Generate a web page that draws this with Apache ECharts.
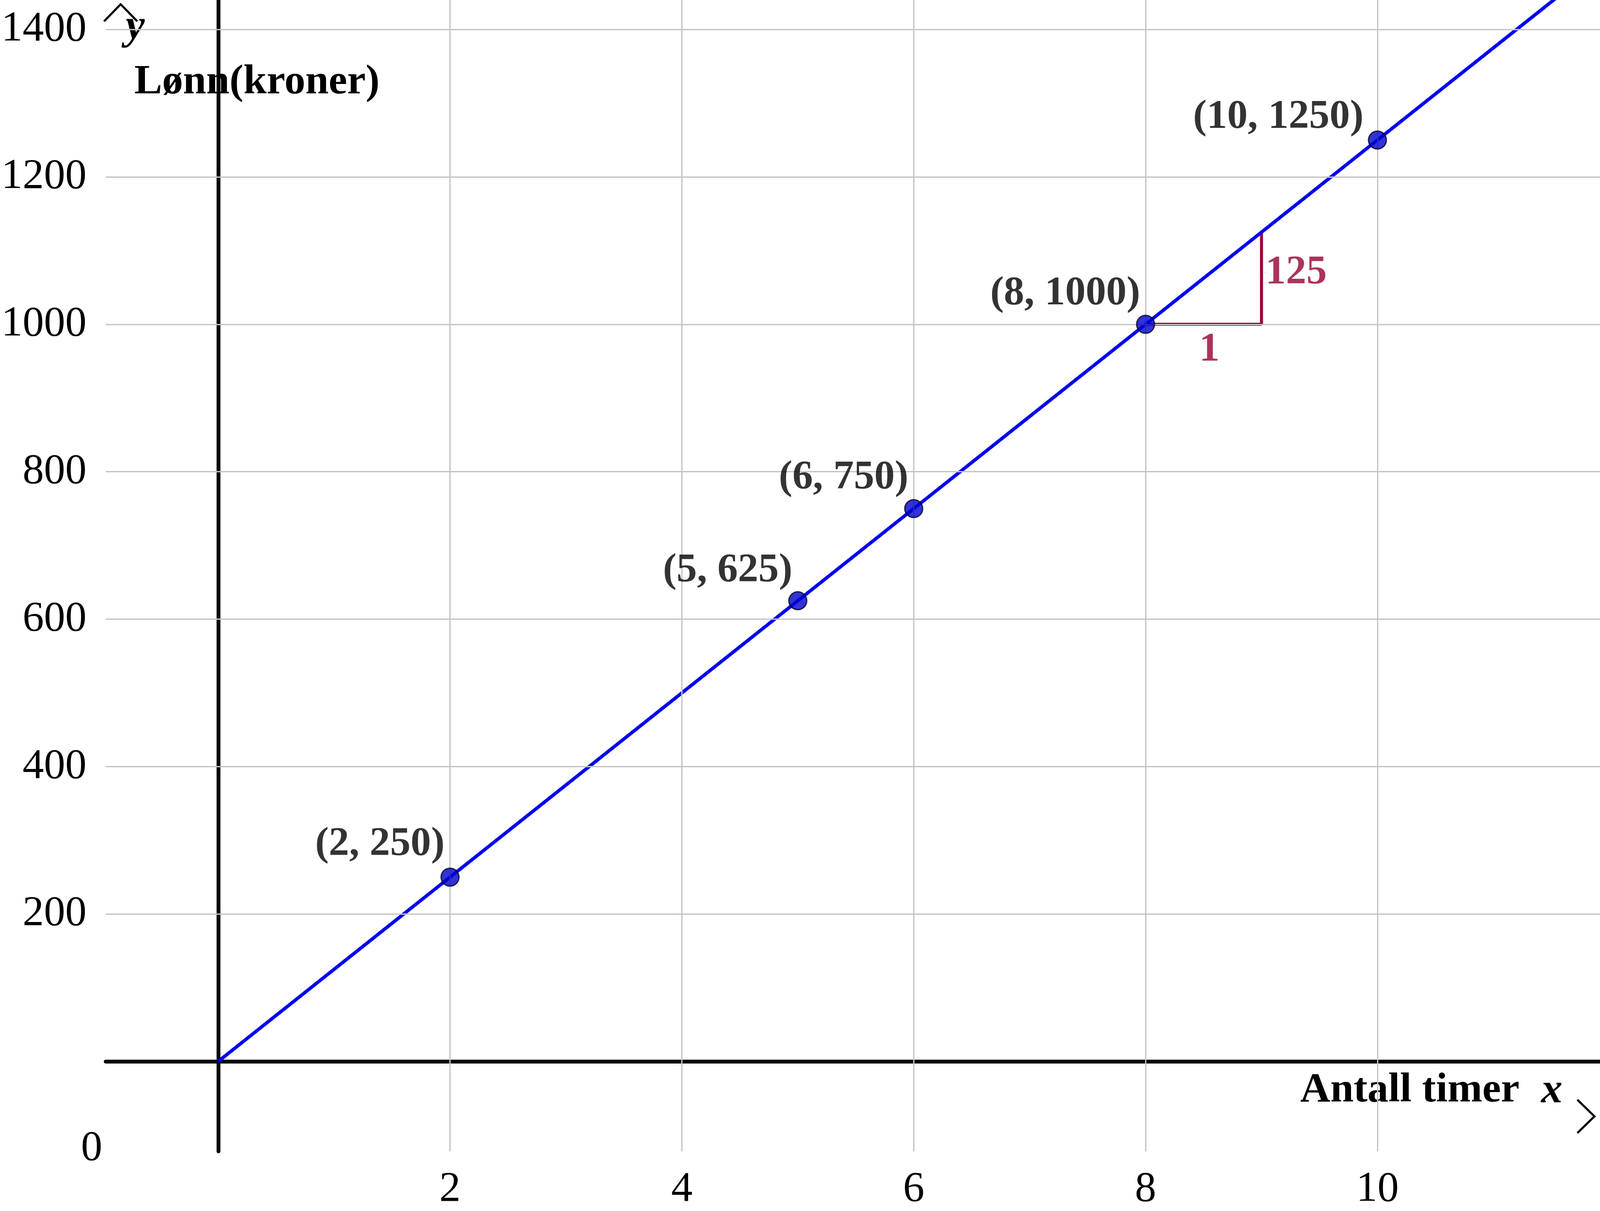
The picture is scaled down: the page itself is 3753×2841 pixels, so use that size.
<!DOCTYPE html>
<html><head><meta charset="utf-8">
<script src="https://cdn.jsdelivr.net/npm/echarts@6/dist/echarts.min.js"></script>
<style>html,body{margin:0;padding:0;background:#fff}#c{width:3753px;height:2841px}</style>
</head><body><div id="c"></div>
<script>
const lineX = [0, 12];
const lineY = [0, 1500];
const pointX = [2, 5, 6, 8, 10];
const pointY = [250, 625, 750, 1000, 1250];
const pointLabels = ['(2, 250)', '(5, 625)', '(6, 750)', '(8, 1000)', '(10, 1250)'];
const triX = [8, 9, 9];
const triY = [1000, 1000, 1125];
const triLabels = ['1', '125'];
const triLabelX = [8.55, 9.03];
const triLabelY = [965, 1070];
const xTicks = [2, 4, 6, 8, 10];
const yTicks = [200, 400, 600, 800, 1000, 1200, 1400];

const serif = 'Liberation Serif';
const labelOffsets = [[10,-77],[10,-70],[10,-72],[10,-72],[-10,-53]];
const gridStyle = {color:'#c4c4c4', width:3, type:'solid'};
const chart = echarts.init(document.getElementById('c'));
chart.setOption({
  animation:false,
  grid:{left:0, right:0, top:0, bottom:0, containLabel:false},
  xAxis:{type:'value', min:-0.97, max:11.92,
    axisLine:{onZero:true, lineStyle:{color:'#000', width:9}},
    axisTick:{show:false, customValues:xTicks},
    splitLine:{show:false},
    axisLabel:{fontFamily:serif, fontSize:100, color:'#000', margin:40, customValues:xTicks,
      formatter:v=> v>0 ? String(v) : ''}},
  yAxis:{type:'value', min:-122, max:1440,
    axisLine:{onZero:true, lineStyle:{color:'#000', width:9}},
    axisTick:{show:false, customValues:yTicks},
    splitLine:{show:false},
    axisLabel:{fontFamily:serif, fontSize:100, color:'#000', margin:45, customValues:yTicks,
      formatter:v=> v>0 ? String(v) : ''}},
  series:[
    {type:'line', data:[], silent:true,
     markLine:{silent:true, symbol:'none', label:{show:false}, lineStyle:gridStyle, animation:false,
       data:[...xTicks.map(v=>({xAxis:v})), ...yTicks.map(v=>({yAxis:v}))]}, z:1},
    {type:'line', data:lineX.map((x,i)=>[x,lineY[i]]), symbol:'none',
     lineStyle:{color:'#0000ee', width:8}, z:3},
    {type:'line', data:triX.map((x,i)=>[x,triY[i]]), symbol:'none',
     lineStyle:{color:'#990033', width:7}, z:2},
    {type:'scatter', data:triLabelX.map((x,i)=>({value:[x,triLabelY[i]],
        label:{formatter:triLabels[i], position: i===0?'inside':'right', distance:0}})),
     symbolSize:0,
     label:{show:true, fontFamily:serif, fontWeight:'bold', fontSize:96, color:'#990033'}},
    {type:'scatter', data:pointX.map((x,i)=>({value:[x,pointY[i]],
        label:{formatter:pointLabels[i], offset:labelOffsets[i], color:'#000'}})),
     symbolSize:42, itemStyle:{color:'#0000cc', borderColor:'#000022', borderWidth:3}, z:5,
     label:{show:true, position:'left', distance:0, fontFamily:serif, fontWeight:'bold', fontSize:96, color:'#000'}}
  ],
  graphic:[
    {type:'text', left:190, top:2645, style:{text:'0', font:'100px "Liberation Serif"', fill:'#000'}},
    {type:'text', right:140, top:2510, style:{text:'Antall timer  ', font:'bold 98px "Liberation Serif"', fill:'#000'}},
    {type:'text', right:88, top:2510, style:{text:'x', font:'italic bold 100px "Liberation Serif"', fill:'#000'}},
    {type:'text', left:295, top:15, style:{text:'y', font:'italic bold 100px "Liberation Serif"', fill:'#000'}},
    {type:'text', left:315, top:145, style:{text:'Lønn(kroner)', font:'bold 98px "Liberation Serif"', fill:'#000'}},
    {type:'polyline', shape:{points:[[3700,2580],[3740,2619],[3700,2658]]}, style:{stroke:'#000', lineWidth:5, fill:null}},
    {type:'polyline', shape:{points:[[244,50],[283,10],[322,50]]}, style:{stroke:'#000', lineWidth:5, fill:null}}
  ]
});
</script></body></html>
